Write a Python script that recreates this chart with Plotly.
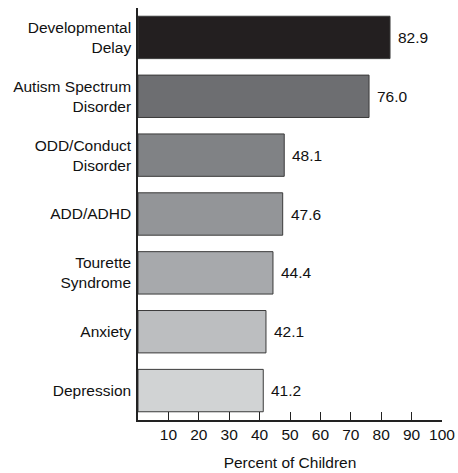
import plotly.graph_objects as go

categories = ["Developmental<br>Delay", "Autism Spectrum<br>Disorder", "ODD/Conduct<br>Disorder",
              "ADD/ADHD", "Tourette<br>Syndrome", "Anxiety", "Depression"]
values = [82.9, 76.0, 48.1, 47.6, 44.4, 42.1, 41.2]
value_labels = ["82.9", "76.0", "48.1", "47.6", "44.4", "42.1", "41.2"]
bar_colors = ["#231f20", "#6d6e71", "#808285", "#939598", "#a7a9ac", "#bcbec0", "#d1d3d4"]
tick_values = [10, 20, 30, 40, 50, 60, 70, 80, 90, 100]
tick_labels = ["10", "20", "30", "40", "50", "60", "70", "80", "90", "100"]

FONT = "Liberation Sans, Arial, sans-serif"
FS = 15.5

fig = go.Figure(go.Bar(
    x=values, y=categories, orientation="h",
    marker=dict(color=bar_colors, line=dict(color="#3a3a3a", width=1)),
    width=0.72,
    cliponaxis=False,
    hoverinfo="x+y",
))

for cat, v, lab in zip(categories, values, value_labels):
    fig.add_annotation(x=v, y=cat, text=lab, showarrow=False, xanchor="left",
                       xshift=6, font=dict(family=FONT, size=FS, color="#111"))

fig.update_layout(
    width=458, height=473,
    margin=dict(l=138, r=16, t=8, b=53, autoexpand=False),
    paper_bgcolor="white", plot_bgcolor="white",
    showlegend=False,
    font=dict(family=FONT, size=FS, color="#111"),
    xaxis=dict(
        range=[0, 100], tickvals=tick_values, ticktext=tick_labels,
        ticks="inside", ticklen=8, tickcolor="#222", tickwidth=1,
        showline=True, linecolor="#222", linewidth=1.5,
        showgrid=False, zeroline=False, automargin=False,
        tickfont=dict(family=FONT, size=FS, color="#111"),
        title=dict(text="Percent of Children", font=dict(family=FONT, size=FS, color="#111"), standoff=15),
    ),
    yaxis=dict(
        autorange="reversed", showline=True, linecolor="#222", linewidth=1.5,
        showgrid=False, zeroline=False, ticks="", ticklabelstandoff=2, automargin=False,
        tickfont=dict(family=FONT, size=FS, color="#111"),
    ),
)

# remove the browser's default 8px body margin so the figure fills the window exactly
fig.write_html("out.html", config={"displayModeBar": False},
               post_script="document.body.style.margin='0';document.body.style.overflow='hidden';")
